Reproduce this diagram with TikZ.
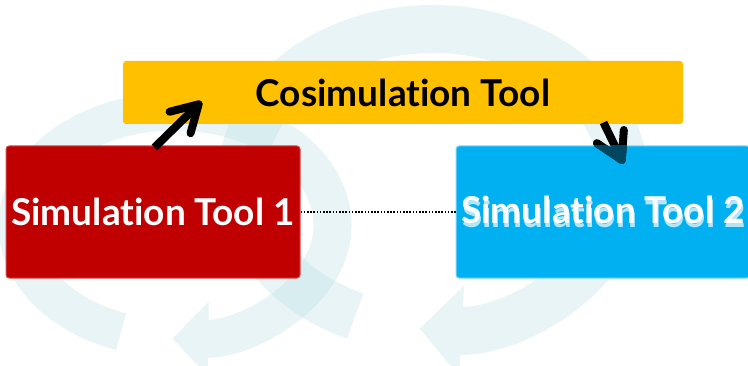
\documentclass[tikz,border=0pt]{standalone}
\usepackage{fontspec}
\setmainfont{Lato}[Ligatures=NoCommon]
\usetikzlibrary{arrows.meta,positioning,calc}
\definecolor{cosimgold}{RGB}{255,192,0}
\definecolor{toolred}{RGB}{192,0,0}
\definecolor{toolblue}{RGB}{0,176,240}
\definecolor{ringteal}{RGB}{180,220,225}

\begin{document}
\begin{tikzpicture}[x=1pt,y=1pt,
  toolbox/.style={rounded corners=3pt,minimum width=294pt,minimum height=132pt,inner sep=0pt,line width=1pt,font=\fontsize{37}{40}\selectfont\bfseries,text=white},
  bigarrow/.style={line width=8pt,-{Straight Barb[length=26pt,width=30pt,round]}},
  ring/.style={draw=ringteal}]
\useasboundingbox (0,0) rectangle (748,365);
% faint loops behind everything
\begin{scope}[transparency group,opacity=.3]
\draw[ring,line width=38pt,-{Triangle[length=36pt,width=72pt]}] (175,140) ++(250:157.5 and 113.5) arc[start angle=250,end angle=-91,x radius=157.5,y radius=113.5];
\end{scope}
\begin{scope}[transparency group,opacity=.3]
\draw[ring,line width=48pt,-{Triangle[length=42pt,width=88pt]}] (433,186) ++(246:191 and 150) arc[start angle=246,end angle=-94,x radius=191,y radius=150];
\end{scope}
% boxes
\node[toolbox,fill=cosimgold,minimum width=560pt,minimum height=63pt,text=black] (cosim) at (403,272.5) {Cosimulation Tool};
\node[toolbox,fill=toolred,draw=toolred!70!white] (sim1) at (153,153) {Simulation Tool 1};
\node[toolbox,fill=toolblue,draw=toolblue!50!white] (sim2) at (603,153) {};
\node[toolbox,draw=none,text=white!70!toolblue] (sim2shade) at ([shift={(1,-2)}]sim2.center) {Simulation Tool 2};
\node[toolbox,draw=none] (sim2text) at ([yshift=2pt]sim2.center) {Simulation Tool 2};
\draw[line width=2pt,dash pattern=on 1.6pt off 1.6pt] (sim1.east) -- (sim2.west);
% arrows to and from the cosimulation tool
\coordinate (up1) at ([shift={(149,-2)}]sim1.north west);
\coordinate (up2) at ([shift={(79,23)}]cosim.south west);
\coordinate (down1) at ([shift={(-80,2)}]cosim.south east);
\coordinate (down2) at ([shift={(168,-18)}]sim2.north west);
\draw[bigarrow] (up1) -- (up2);
\draw[bigarrow] (down1) -- (down2);
\begin{scope}
\clip (sim2.south west) rectangle (sim2.north east);
\draw[bigarrow,draw=toolblue!40!black] (down1) -- (down2);
\end{scope}
\end{tikzpicture}
\end{document}
